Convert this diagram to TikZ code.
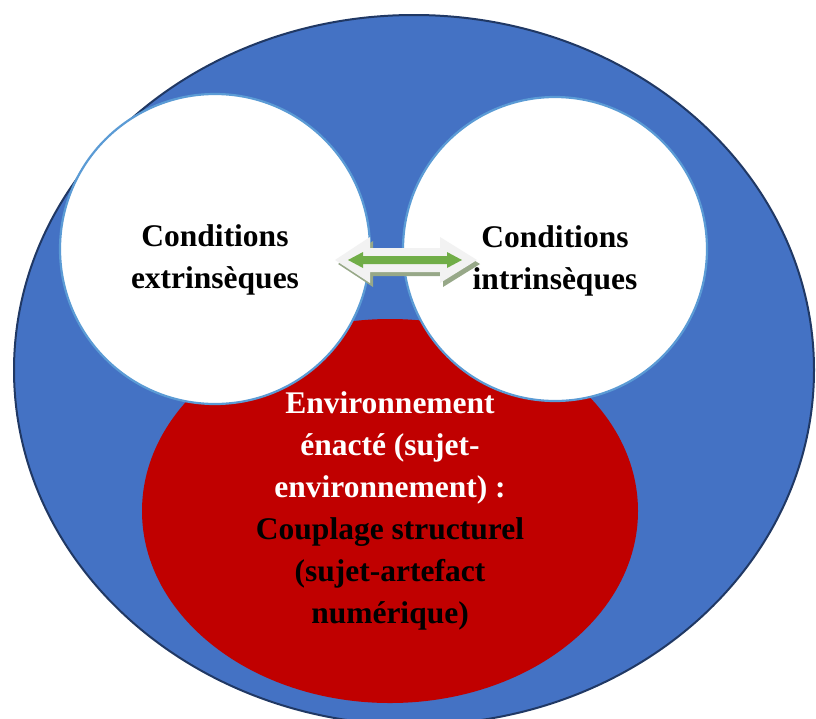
\documentclass[tikz,border=0pt]{standalone}
\usepackage{fontspec}
\setmainfont{Liberation Serif}
\usetikzlibrary{shapes.geometric}
\definecolor{outerblue}{HTML}{4472C4}
\definecolor{outerline}{HTML}{203864}
\definecolor{innerred}{HTML}{C00000}
\definecolor{ringblue}{HTML}{5B9BD5}
\definecolor{arrowgreen}{HTML}{70AD47}
\definecolor{arrowwhite}{HTML}{F2F2F2}
\definecolor{arrowshade}{HTML}{97A888}

\begin{document}
\begin{tikzpicture}[x=1pt,y=-1pt,line join=round,
  every node/.style={inner sep=0pt,align=center,font=\bfseries\fontsize{31.5}{42}\selectfont},
  bubble/.style={circle,draw=ringblue,line width=2.2pt,fill=white}]
  \def\wl#1{\textcolor{white}{#1}}
  \def\ay{260}
  \useasboundingbox (0,0) rectangle (816,718);
  \draw[fill=outerblue,draw=outerline,line width=2pt] (414,370) ellipse [x radius=400pt,y radius=355pt];
  \node[ellipse,fill=innerred,minimum width=496pt,minimum height=384pt] (enact) at (390,511)
    {\wl{Environnement}\\\wl{énacté (sujet-}\\\wl{environnement) :}\\Couplage structurel\\(sujet-artefact\\numérique)};
  \node[bubble,minimum size=310pt] (extr) at (215,249) {};
  \node[bubble,minimum size=304pt] (intr) at (555,249) {};
  \node (extrtext) at ([yshift=-11pt]extr.center) {Conditions\\extrinsèques};
  \node (intrtext) at ([yshift=-12pt]intr.center) {Conditions\\intrinsèques};
  \foreach \dx/\dy/\col in {3/4/arrowshade,0/0/arrowwhite}
    \fill[\col,shift={(\dx,\dy)}] (335,\ay) -- (370,\ay-23) -- (370,\ay-12) -- (440,\ay-12) -- (440,\ay-23) -- (477,\ay)
      -- (440,\ay+23) -- (440,\ay+12) -- (370,\ay+12) -- (370,\ay+23) -- cycle;
  \fill[arrowgreen] (348,\ay) -- (363,\ay-8) -- (363,\ay-4) -- (447,\ay-4) -- (447,\ay-8) -- (462,\ay)
    -- (447,\ay+8) -- (447,\ay+4) -- (363,\ay+4) -- (363,\ay+8) -- cycle;
\end{tikzpicture}
\end{document}
